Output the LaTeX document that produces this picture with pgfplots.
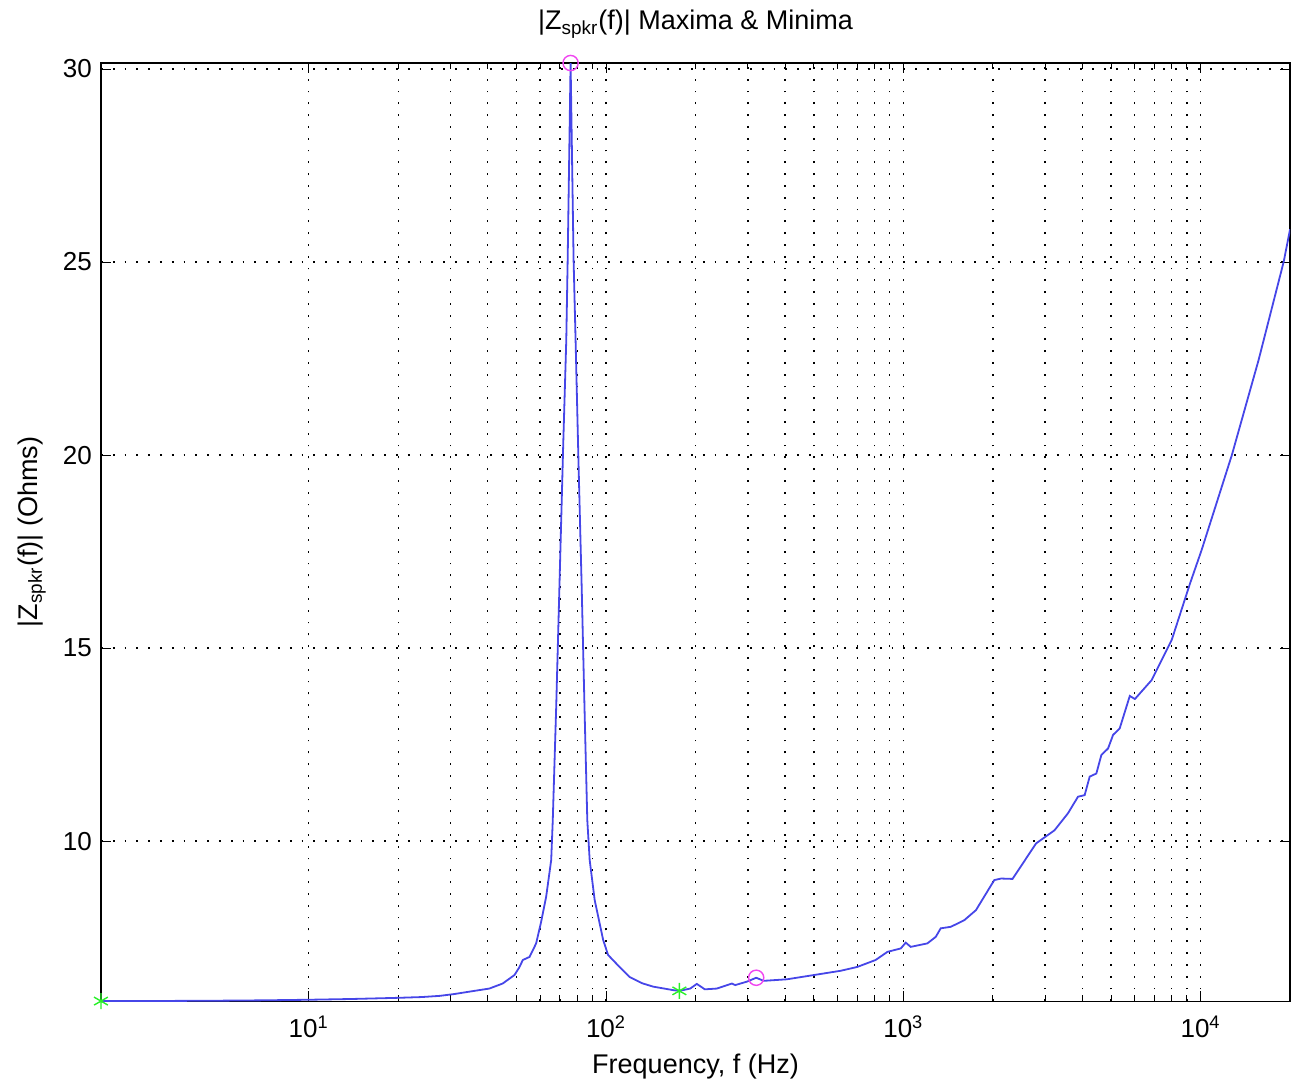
\documentclass[border=0pt]{standalone}
\usepackage{fontspec}
\setmainfont{Liberation Sans}
\usepackage{pgfplots}
\pgfplotsset{compat=1.18}

\definecolor{zline}{RGB}{70,70,232}
\definecolor{minc}{RGB}{40,240,40}
\definecolor{maxc}{RGB}{240,70,240}

\begin{document}
\begin{tikzpicture}
\begin{axis}[
    width=594.5pt,
    height=469pt,
    scale only axis,
    xmode=log,
    xmin=2, xmax=20000,
    ymin=5.855, ymax=30.155,
    xtick={10,100,1000,10000},
    xticklabels={10\textsuperscript{1},10\textsuperscript{2},10\textsuperscript{3},10\textsuperscript{4}},
    ytick={10,15,20,25,30},
    /pgf/number format/assume math mode=true,
    tick label style={font=\fontsize{13}{15}\selectfont},
    xticklabel style={yshift=-4pt},
    yticklabel style={xshift=-1pt},
    tick align=inside,
    major tick length=5pt,
    minor tick length=3pt,
    every tick/.style={black, line width=0.5pt},
    axis line style={black, line width=0.6pt},
    grid=both,
    xminorgrids=true,
    yminorgrids=false,
    major grid style={black, line width=0.7pt, dash pattern=on 0.9pt off 5pt},
    minor grid style={black, line width=0.7pt, dash pattern=on 0.9pt off 5pt},
    title={|Z\textsubscript{spkr}(f)| Maxima \& Minima},
    title style={font=\fontsize{13.5}{15}\selectfont, at={(axis description cs:0.5,1)}, anchor=south, yshift=3pt},
    xlabel={Frequency, f (Hz)},
    ylabel={|Z\textsubscript{spkr}(f)| (Ohms)},
    xlabel style={font=\fontsize{13.5}{15}\selectfont, at={(axis description cs:0.5,0)}, anchor=north, yshift=-23pt},
    every axis y label/.style={font=\fontsize{13.5}{15}\selectfont, at={(axis description cs:-0.058,0.5)}, rotate=90, anchor=center},
    clip mode=individual,
]

\addplot[color=zline, line width=0.9pt] coordinates {
    (2,5.855) (3,5.858) (4,5.862) (5,5.866) (7,5.875) (10,5.89)
    (14,5.91) (20,5.94) (24,5.96) (27.5,5.99) (31,6.04) (34.7,6.10)
    (40.5,6.18) (44.9,6.31) (49.2,6.53) (51,6.72) (52.5,6.92)
    (55.3,7.00) (58.2,7.35) (60.5,7.91) (62.9,8.56) (65.4,9.51)
    (66.2,10.54) (68,13.5) (69.8,16.76) (71.8,20.3) (73.5,22.98) (74.3,25.05)
    (76.0,30.155) (77.8,25.05) (79.0,22.98) (80.8,19.8) (82.8,16.6) (84.8,13.2)
    (86.5,10.54) (88.1,9.51) (91.6,8.47) (97.8,7.44) (101.6,7.05)
    (111,6.74) (120,6.48) (132,6.32) (144,6.23)
    (168,6.14) (176.5,6.12) (192,6.18) (202,6.30) (215,6.16) (236,6.18)
    (265,6.31) (272,6.27) (298,6.36) (320,6.46) (339,6.38) (406,6.42)
    (500,6.53) (615,6.64) (700,6.74) (807,6.92) (884,7.13) (981,7.22)
    (1019,7.37) (1059,7.26) (1205,7.35) (1286,7.52) (1336,7.74)
    (1445,7.78) (1603,7.95) (1755,8.21) (2023,8.99) (2133,9.03)
    (2330,9.02) (2797,9.94) (3226,10.28) (3580,10.72) (3870,11.15)
    (4074,11.19) (4236,11.67) (4460,11.75) (4637,12.23) (4884,12.40)
    (5077,12.75) (5345,12.92) (5779,13.76) (6012,13.68) (6845,14.17)
    (7997,15.21) (9221,16.68) (10080,17.54) (12740,20.0) (15670,22.46)
    (19040,25.01) (20000,25.85)
};

% minima
\addplot[only marks, mark=asterisk, mark size=4pt, color=minc, line width=0.7pt] coordinates {
    (2,5.855) (176.5,6.12)
};

% maxima
\addplot[only marks, mark=o, mark size=3.8pt, color=maxc, line width=0.7pt] coordinates {
    (76.0,30.155) (320,6.46)
};

\coordinate (bl) at (axis description cs:-0.0849,-0.0906);
\coordinate (tr) at (axis description cs:1.0008,1.0672);
\end{axis}
\path (bl) rectangle (tr);
\end{tikzpicture}
\end{document}
